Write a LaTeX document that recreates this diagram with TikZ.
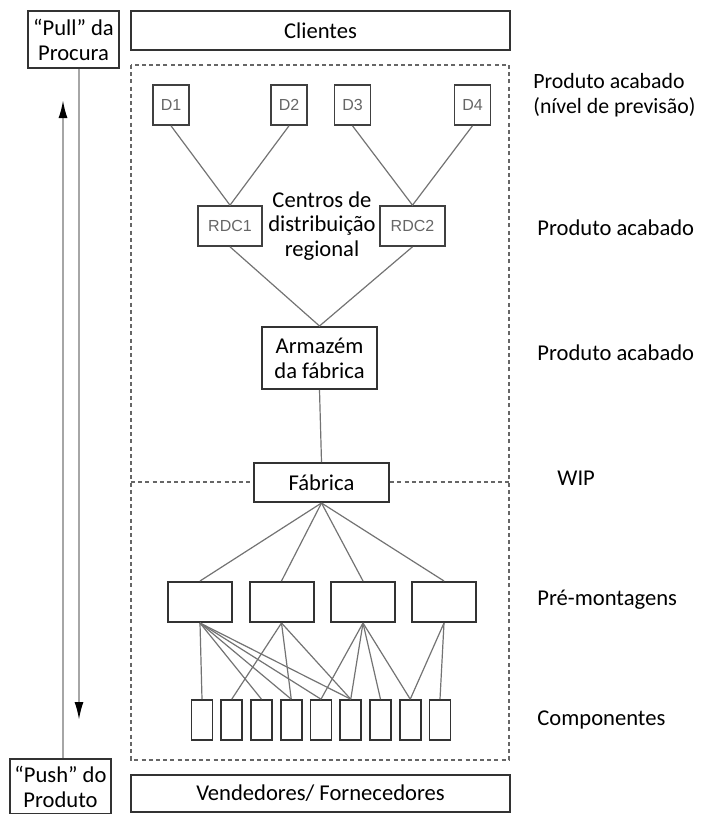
\documentclass[tikz,border=0pt]{standalone}
\usepackage{fontspec}
\setmainfont{Carlito}
\newfontfamily\helv{Liberation Sans}
\usetikzlibrary{arrows.meta}
\begin{document}
\begin{tikzpicture}
	[x=0.5pt,y=-0.5pt,
	box/.style={draw=black!80,line width=1pt,fill=white,inner sep=0pt,align=center,font=\fontsize{11.3}{12.5}\selectfont},
	dbox/.style={draw=black!75,line width=0.8pt,fill=white,inner sep=0pt,minimum height=20pt,font=\helv\fontsize{8}{9}\selectfont,text=black!60},
	pbox/.style={draw=black!80,line width=1pt,fill=white,minimum width=32pt,minimum height=20pt},
	cbox/.style={draw=black!80,line width=0.8pt,fill=white,minimum width=10.5pt,minimum height=20pt},
	link/.style={black!55,line width=0.6pt},
	frame/.style={black!60,line width=0.6pt,dash pattern=on 2pt off 1.6pt},
	flow/.style={black!35,line width=1pt,-{Latex[length=9pt,width=4.5pt,black]}},
	lbl/.style={anchor=west,align=left,inner sep=0pt,font=\fontsize{11.3}{12.5}\selectfont}]
    \useasboundingbox (0,0) rectangle (702,814);
    \draw[frame] (131,65) rectangle (509,760);
    \draw[frame] (131,482) -- (509,482);
    \node[box,minimum width=189.5pt,minimum height=19.5pt] at (320.5,30.5) (cli) {Clientes};
    \node[box,minimum width=189.5pt,minimum height=18.5pt] at (320.5,793.5) (vend) {Vendedores/ Fornecedores};
    \node[box,minimum width=45.5pt,minimum height=28.5pt] at (73.5,39.5) (pull) {“Pull” da\\Procura};
    \node[box,minimum width=50.5pt,minimum height=27.5pt] at (60.5,786.5) (push) {“Push” do\\Produto};
    \foreach \i/\x in {1/171,2/289,3/352.5,4/472.5}
        \node[dbox,minimum width=18pt] at (\x,105) (d\i) {D\i};
    \node[dbox,minimum width=32pt] at (230,226) (rdc1) {RDC1};
    \node[dbox,minimum width=32.5pt] at (412.5,226) (rdc2) {RDC2};
    \node[align=center,inner sep=0pt,font=\fontsize{11.3}{12.2}\selectfont] at (322,226) (cdr) {Centros de\\distribuição\\regional};
    \node[box,minimum width=57.5pt,minimum height=31pt] at (319.5,358) (arm) {Armazém\\da fábrica};
    \node[box,minimum width=67.5pt,minimum height=19.5pt] at (321.5,482.5) (fab) {Fábrica};
    \foreach \i/\x in {1/200,2/281.5,3/363,4/444}
        \node[pbox] at (\x,602) (p\i) {};
    \foreach \i in {1,...,9}
        \node[cbox] at ({202+29.75*(\i-1)},720) (c\i) {};
    \draw[link] (d1.south) -- (rdc1.north) -- (d2.south);
    \draw[link] (d3.south) -- (rdc2.north) -- (d4.south);
    \draw[link] (rdc1.south) -- (arm.north) -- (rdc2.south);
    \draw[link] (arm.south) -- (fab.north);
    \foreach \i in {1,...,4}
        \draw[link] (fab.south) -- (p\i.north);
    \foreach \p/\c in {1/1,1/3,1/4,1/5,1/6,2/2,2/4,2/6,3/5,3/6,3/7,3/8,4/8,4/9}
        \draw[link] (p\p.south) -- (c\c.north);
    \coordinate (pulltip) at (79,720);
    \coordinate (pushtip) at (63,100);
    \draw[flow] (pulltip |- pull.south) -- (pulltip);
    \draw[flow] (pushtip |- push.north) -- (pushtip);
    \node[lbl,font=\fontsize{10.9}{12.5}\selectfont] at (533,95) (l1) {Produto acabado\\(nível de previsão)};
    \node[lbl] at (537,228) (l2) {Produto acabado};
    \node[lbl] at (537,353) (l3) {Produto acabado};
    \node[lbl] at (557,478) (l4) {WIP};
    \node[lbl] at (537,600) (l5) {Pré-montagens};
    \node[lbl] at (537,720) (l6) {Componentes};
\end{tikzpicture}
\end{document}
